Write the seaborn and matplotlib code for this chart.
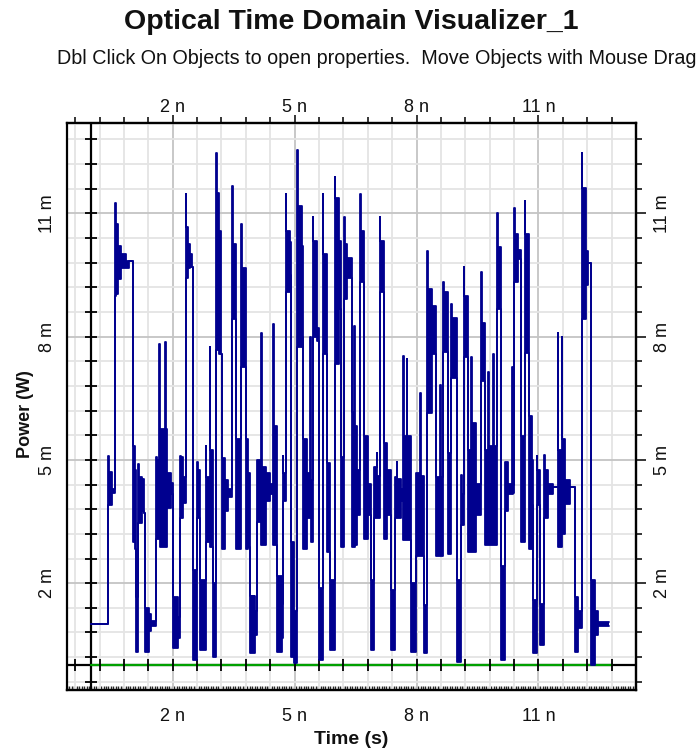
import numpy as np
import matplotlib
matplotlib.use("Agg")
import matplotlib.pyplot as plt
from matplotlib.ticker import FixedLocator, FuncFormatter, NullFormatter
import seaborn as sns

sns.set_style("white")
plt.rcParams["font.family"] = ["Liberation Sans", "DejaVu Sans"]

# Optical power trace, stored as consecutive time segments (ns).
# Each segment spans [start, next start) and the trace fills the band
# between its low and high value (mW); narrow segments are overshoot spikes.
seg_start_ns = [
    0.000, 0.420, 0.436, 0.502, 0.584, 0.600, 0.666, 0.732, 0.847, 0.929,
    1.028, 1.061, 1.094, 1.159, 1.176, 1.242, 1.299, 1.324, 1.406, 1.464,
    1.587, 1.603, 1.669, 1.685, 1.809, 1.825, 1.850, 1.957, 1.998, 2.121,
    2.179, 2.195, 2.252, 2.318, 2.334, 2.367, 2.417, 2.482, 2.499, 2.597,
    2.613, 2.680, 2.811, 2.828, 2.910, 2.926, 2.992, 3.074, 3.090, 3.140,
    3.198, 3.222, 3.280, 3.362, 3.469, 3.485, 3.567, 3.674, 3.699, 3.798,
    3.855, 3.913, 4.020, 4.077, 4.184, 4.200, 4.291, 4.396, 4.478, 4.495,
    4.561, 4.684, 4.709, 4.725, 4.783, 4.800, 4.889, 4.906, 4.988, 5.070,
    5.086, 5.177, 5.218, 5.300, 5.383, 5.399, 5.448, 5.464, 5.563, 5.605,
    5.687, 5.703, 5.794, 5.876, 5.983, 6.000, 6.081, 6.139, 6.221, 6.237,
    6.287, 6.410, 6.468, 6.484, 6.542, 6.608, 6.624, 6.707, 6.805, 6.887,
    6.953, 7.019, 7.035, 7.093, 7.109, 7.200, 7.266, 7.381, 7.463, 7.512,
    7.528, 7.611, 7.677, 7.693, 7.759, 7.775, 7.857, 7.981, 8.088, 8.104,
    8.186, 8.268, 8.284, 8.392, 8.474, 8.581, 8.597, 8.655, 8.671, 8.769,
    8.852, 8.868, 8.990, 9.098, 9.123, 9.164, 9.180, 9.262, 9.345, 9.361,
    9.468, 9.591, 9.607, 9.674, 9.756, 9.772, 9.879, 9.895, 9.978, 9.994,
    10.085, 10.167, 10.249, 10.356, 10.372, 10.397, 10.413, 10.496, 10.578, 10.660,
    10.676, 10.759, 10.832, 10.873, 10.955, 10.971, 11.038, 11.145, 11.161, 11.243,
    11.366, 11.473, 11.489, 11.572, 11.588, 11.654, 11.777, 11.901, 11.983, 12.065,
    12.081, 12.164, 12.230, 12.295, 12.394, 12.476,
]
trace_end_ns = 12.739

seg_low_mw = [
    1.0, 3.9, 3.9, 4.2, 9.0, 9.05, 9.4, 9.67, 9.67, 9.83,
    3.0, 2.83, 0.33, 3.46, 3.46, 3.75, 3.7, 0.33, 0.83, 0.96,
    3.08, 3.08, 3.08, 2.88, 2.88, 2.88, 3.83, 4.17, 0.42, 0.67,
    3.58, 3.58, 3.96, 9.4, 9.42, 9.67, 9.7, 9.7, 0.13, 3.58,
    3.58, 0.38, 3.0, 3.0, 2.88, 2.88, 0.2, 7.67, 7.67, 7.58,
    7.58, 2.83, 3.75, 4.1, 8.42, 8.42, 2.83, 7.25, 7.25, 2.83,
    2.88, 0.3, 0.75, 3.5, 2.92, 2.92, 4.0, 4.17, 2.92, 2.92,
    0.33, 0.67, 3.9, 4.0, 9.08, 9.08, 9.5, 0.2, 0.05, 7.75,
    7.75, 8.0, 2.83, 3.58, 3.58, 3.0, 8.0, 8.0, 7.9, 0.13,
    7.58, 7.58, 2.75, 0.38, 7.33, 7.33, 8.67, 2.88, 8.92, 8.92,
    9.42, 2.88, 2.88, 2.92, 3.67, 9.33, 9.33, 3.08, 3.67, 0.38,
    3.58, 3.58, 3.58, 9.08, 9.08, 3.08, 3.67, 0.38, 3.58, 3.58,
    3.58, 4.0, 3.04, 3.04, 3.04, 3.04, 0.33, 2.67, 2.67, 2.67,
    0.29, 6.13, 6.13, 7.58, 2.67, 2.67, 2.67, 7.63, 7.63, 2.71,
    7.0, 7.0, 0.08, 3.42, 3.42, 7.5, 7.5, 2.75, 2.75, 2.75,
    3.67, 6.92, 6.92, 2.92, 2.92, 2.92, 2.92, 2.92, 8.67, 8.67,
    0.13, 3.75, 4.17, 4.17, 4.2, 9.33, 9.33, 9.88, 3.0, 7.6,
    7.6, 2.83, 3.9, 0.29, 3.9, 3.9, 0.5, 3.58, 3.58, 4.17,
    4.33, 2.88, 2.88, 2.88, 3.2, 3.92, 4.33, 0.33, 0.92, 8.42,
    8.42, 9.25, 9.8, 0.0, 0.75, 0.95,
]

seg_high_mw = [
    1.0, 5.1, 4.7, 4.3, 11.25, 10.75, 10.2, 10.0, 9.83, 9.83,
    5.33, 4.75, 1.67, 4.9, 4.58, 4.54, 3.7, 1.4, 1.25, 1.08,
    5.08, 5.0, 7.83, 5.75, 7.88, 5.75, 4.67, 4.45, 1.67, 1.17,
    5.1, 5.08, 4.58, 11.46, 10.67, 10.25, 10.0, 9.7, 2.33, 4.96,
    4.75, 2.08, 5.33, 4.58, 7.75, 5.25, 2.0, 12.46, 11.5, 10.58,
    7.58, 5.04, 4.5, 4.3, 11.67, 10.25, 5.5, 10.75, 9.67, 5.5,
    4.67, 1.7, 1.33, 5.0, 8.1, 4.83, 4.67, 4.42, 8.3, 5.83,
    2.17, 1.5, 5.1, 4.67, 11.46, 10.58, 10.3, 3.0, 1.33, 12.54,
    11.17, 10.2, 5.5, 4.67, 8.0, 4.5, 10.9, 10.33, 8.2, 1.88,
    11.46, 10.0, 4.92, 2.08, 11.88, 11.38, 10.33, 5.08, 10.92, 10.25,
    9.92, 6.17, 8.25, 5.83, 4.75, 11.46, 10.58, 5.58, 4.42, 2.08,
    4.83, 5.17, 4.6, 10.92, 10.33, 5.42, 4.75, 1.83, 4.58, 4.96,
    4.54, 4.3, 7.54, 5.58, 7.46, 5.58, 2.0, 4.67, 6.63, 4.6,
    1.46, 10.08, 9.17, 8.75, 4.58, 6.83, 4.58, 9.33, 9.08, 5.17,
    8.79, 8.46, 2.08, 4.63, 4.17, 9.7, 9.0, 5.25, 7.5, 5.9,
    4.42, 9.58, 8.33, 5.25, 7.13, 5.33, 7.58, 5.33, 11.0, 10.17,
    2.42, 4.96, 4.42, 7.25, 4.4, 11.13, 10.5, 10.1, 5.58, 11.3,
    10.5, 6.08, 5.0, 1.58, 5.1, 4.75, 1.5, 5.13, 4.75, 4.42,
    4.33, 8.08, 5.25, 8.0, 5.5, 4.5, 4.33, 1.67, 1.33, 12.46,
    11.63, 10.08, 9.8, 2.08, 1.33, 1.05,
]

# Second channel: flat zero-power trace
zero_t_ns = [0.0, 12.8]
zero_p_mw = [0.0, 0.0]

major_x = [2, 5, 8, 11]
major_y = [2, 5, 8, 11]
x_lim = (-0.6, 13.4)
y_lim = (-0.6, 13.2)

navy = "#00008f"
green = "#00a000"

fig = plt.figure(figsize=(6.97, 7.56), dpi=100)
ax = fig.add_axes([67 / 697, 1 - 690 / 756, (636 - 67) / 697, (690 - 123) / 756])
ax.set_xlim(*x_lim)
ax.set_ylim(*y_lim)

grid_x = np.round(np.arange(-0.4, 13.0, 0.6), 2)
grid_y = np.round(np.arange(-0.4, 13.0, 0.6), 2)
minor_x = [v for v in grid_x if not any(abs(v - m) < 1e-6 for m in major_x)]
minor_y = [v for v in grid_y if not any(abs(v - m) < 1e-6 for m in major_y)]

ax.xaxis.set_major_locator(FixedLocator(major_x))
ax.xaxis.set_minor_locator(FixedLocator(minor_x))
ax.yaxis.set_major_locator(FixedLocator(major_y))
ax.yaxis.set_minor_locator(FixedLocator(minor_y))
ax.xaxis.set_major_formatter(FuncFormatter(lambda v, p: f"{v:g} n"))
ax.yaxis.set_major_formatter(FuncFormatter(lambda v, p: f"{v:g} m"))
ax.xaxis.set_minor_formatter(NullFormatter())
ax.yaxis.set_minor_formatter(NullFormatter())

ax.grid(which="minor", color="#e4e4e4", lw=1.3, zorder=0)
ax.grid(which="major", color="#c4c4c4", lw=1.3, zorder=0)
ax.set_axisbelow(True)

tick_font = 13
ax.tick_params(axis="both", which="both", direction="inout", color="black",
               width=1.3, labelsize=tick_font, labelcolor="#111111")
ax.tick_params(axis="both", which="major", length=12)
ax.tick_params(axis="both", which="minor", length=7)
ax.tick_params(axis="x", which="major", pad=7)
ax.tick_params(axis="y", which="major", pad=2)
for lab in ax.get_yticklabels():
    lab.set_rotation(90)
    lab.set_va("center")

for s in ax.spines.values():
    s.set_color("black")
    s.set_linewidth(1.6)

# top axis duplicate
top = ax.secondary_xaxis("top")
top.xaxis.set_major_locator(FixedLocator(major_x))
top.xaxis.set_minor_locator(FixedLocator(minor_x))
top.xaxis.set_major_formatter(FuncFormatter(lambda v, p: f"{v:g} n"))
top.xaxis.set_minor_formatter(NullFormatter())
top.tick_params(which="both", direction="out", width=1.3, labelsize=tick_font,
                labelcolor="#111111")
top.tick_params(which="major", length=6, pad=-1)
top.tick_params(which="minor", length=4)
top.spines["top"].set_linewidth(1.6)

# right axis duplicate
right = ax.secondary_yaxis("right")
right.yaxis.set_major_locator(FixedLocator(major_y))
right.yaxis.set_minor_locator(FixedLocator(minor_y))
right.yaxis.set_major_formatter(FuncFormatter(lambda v, p: f"{v:g} m"))
right.yaxis.set_minor_formatter(NullFormatter())
right.tick_params(which="both", direction="out", width=1.3, labelsize=tick_font,
                  labelcolor="#111111")
right.tick_params(which="major", length=7, pad=6)
right.tick_params(which="minor", length=4)
right.spines["right"].set_linewidth(1.6)
for lab in right.get_yticklabels():
    lab.set_rotation(90)
    lab.set_va("center")

# fine ruler ticks along the bottom edge
ruler = ax.secondary_xaxis("bottom")
ruler.xaxis.set_major_locator(FixedLocator(np.round(np.arange(-0.6, 13.4, 0.06), 2)))
ruler.xaxis.set_major_formatter(NullFormatter())
ruler.tick_params(which="major", direction="in", length=3, width=1.0)
ruler.spines["bottom"].set_linewidth(1.6)

# inner zero axes with cross ticks
ax.axvline(0, color="black", lw=1.6, zorder=2)
ax.axhline(0, color="black", lw=1.6, zorder=2)

sns.lineplot(x=zero_t_ns, y=zero_p_mw, color=green, lw=1.6, ax=ax,
             estimator=None, sort=False, zorder=3)

ax.plot(np.zeros(len(grid_y)), grid_y, ls="none", marker="_", ms=9, mew=1.3,
        color="black", zorder=4)
ax.plot(grid_x, np.zeros(len(grid_x)), ls="none", marker="|", ms=8, mew=1.3,
        color="black", zorder=4)

# power trace
t_edges = np.array(seg_start_ns + [trace_end_ns])
lo_edges = np.array(seg_low_mw + [seg_low_mw[-1]])
hi_edges = np.array(seg_high_mw + [seg_high_mw[-1]])
ax.fill_between(t_edges, lo_edges, hi_edges, step="post", color=navy, lw=0, zorder=5)
sns.lineplot(x=t_edges, y=lo_edges, drawstyle="steps-post", color=navy, lw=1.3,
             ax=ax, estimator=None, sort=False, zorder=6)
sns.lineplot(x=t_edges, y=hi_edges, drawstyle="steps-post", color=navy, lw=1.3,
             ax=ax, estimator=None, sort=False, zorder=6)

ax.set_xlabel("")
ax.set_ylabel("")

fig.text(0.5036, 1 - 22 / 756, "Optical Time Domain Visualizer_1", ha="center",
         va="center", fontsize=20.5, fontweight="bold", color="#111111")
fig.text(57 / 697, 1 - 58 / 756,
         "Dbl Click On Objects to open properties.  Move Objects with Mouse Drag",
         ha="left", va="center", fontsize=14.2, color="#111111")
fig.text(351 / 697, 1 - 740 / 756, "Time (s)", ha="center", va="center",
         fontsize=14, fontweight="bold", color="#111111")
fig.text(26 / 697, 1 - 414 / 756, "Power (W)", ha="center", va="center",
         rotation=90, fontsize=13, fontweight="bold", color="#111111")

fig.savefig("out.png", dpi=100)
